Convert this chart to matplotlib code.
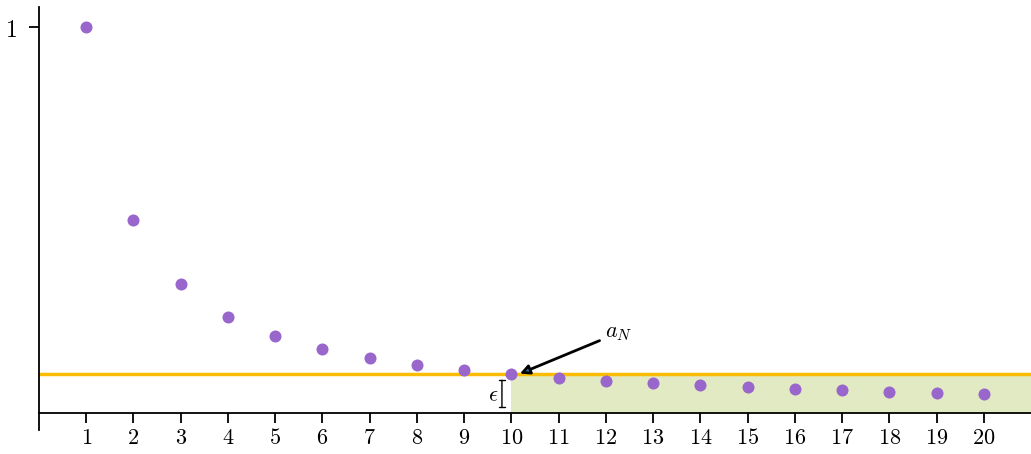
import numpy as np
import matplotlib
matplotlib.use('Agg')
import matplotlib.pyplot as plt

plt.rcParams['mathtext.fontset'] = 'cm'

# sequence a_n = 1/n
n_vals = list(range(1, 21))
a_vals = [1.0, 0.5, 0.3333, 0.25, 0.2, 0.1667, 0.1429, 0.125, 0.1111, 0.1,
          0.0909, 0.0833, 0.0769, 0.0714, 0.0667, 0.0625, 0.0588, 0.0556,
          0.0526, 0.05]
eps = 0.1
N = 10

fig = plt.figure(figsize=(10.31, 4.54), dpi=100)
ax = fig.add_axes([39/1031, 24/454, 1 - 39/1031, 423/454])

ax.set_xlim(0, 21)
ax.set_ylim(-0.044, 1.052)

# band after N
ax.fill_between([N, 21], 0, eps, color='#e2eac3', lw=0, zorder=1)
ax.axhline(eps, color='#fbbc05', lw=2.5, zorder=2)
ax.scatter(n_vals, a_vals, s=75, color='#9966cc', lw=0, zorder=3)

# epsilon bracket
ax.annotate('', xy=(9.8, 0.008), xytext=(9.8, 0.092),
            arrowprops=dict(arrowstyle='|-|,widthA=0.2,widthB=0.2', lw=1, color='k'))
ax.text(9.62, 0.045, r'$\epsilon$', fontsize=16, ha='center', va='center')

ax.annotate(r'$a_N$', xy=(10.18, 0.102), xytext=(11.98, 0.208),
            fontsize=16, ha='left', va='center',
            arrowprops=dict(arrowstyle='-|>', lw=2, color='k',
                            fc='#1f77b4', shrinkA=2, shrinkB=0,
                            mutation_scale=14))

ax.spines['top'].set_visible(False)
ax.spines['right'].set_visible(False)
ax.spines['bottom'].set_position(('data', 0))
ax.spines['left'].set_linewidth(1.3)
ax.spines['bottom'].set_linewidth(1.3)

ax.set_xticks(n_vals)
ax.set_xticklabels([f'${n}$' for n in n_vals], fontsize=16)
ax.set_yticks([1])
ax.set_yticklabels(['$1$'], fontsize=17)
ax.tick_params(axis='both', length=7, width=1.3, direction='out')
ax.tick_params(axis='y', pad=9)

plt.savefig('out.png', dpi=100)
